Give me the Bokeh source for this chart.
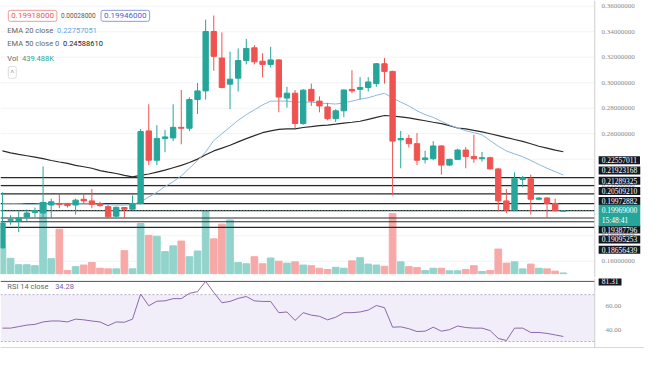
from bokeh.plotting import figure
from bokeh.layouts import column
from bokeh.models import (ColumnDataSource, Range1d, Label, BoxAnnotation, Span)
from bokeh.embed import file_html
from bokeh.resources import INLINE

# ---------------- data ----------------
opens = [0.1705, 0.1921, 0.1916, 0.1946, 0.1983, 0.1978, 0.2041, 0.2053, 0.2053, 0.2041,
         0.2086, 0.2073, 0.2051, 0.2028, 0.1953, 0.2021, 0.2008, 0.2053, 0.2622, 0.2392,
         0.2562, 0.2567, 0.2650, 0.2643, 0.2868, 0.2936, 0.3402, 0.3194, 0.2989, 0.3036,
         0.3174, 0.3274, 0.3169, 0.3144, 0.3179, 0.2880, 0.2918, 0.2680, 0.2948, 0.2856,
         0.2810, 0.2718, 0.2780, 0.2948, 0.2948, 0.2963, 0.2993, 0.3149, 0.3089, 0.2552,
         0.2562, 0.2522, 0.2397, 0.2404, 0.2504, 0.2354, 0.2399, 0.2472, 0.2422, 0.2404,
         0.2412, 0.2324, 0.2073, 0.2003, 0.2241, 0.2246, 0.2086, 0.2096, 0.2053, 0.19918]
closes = [0.1900, 0.1926, 0.1940, 0.1978, 0.1998, 0.2061, 0.2066, 0.2046, 0.2036, 0.2079,
          0.2073, 0.2046, 0.2036, 0.1948, 0.2023, 0.2008, 0.2053, 0.2617, 0.2392, 0.2562,
          0.2575, 0.2650, 0.2643, 0.2868, 0.2936, 0.3402, 0.3207, 0.2963, 0.3028, 0.3174,
          0.3269, 0.3164, 0.3144, 0.3179, 0.2888, 0.2918, 0.2680, 0.2942, 0.2856, 0.2818,
          0.2718, 0.2780, 0.2943, 0.2936, 0.2963, 0.3006, 0.3149, 0.3089, 0.2542, 0.2562,
          0.2522, 0.2392, 0.2410, 0.2504, 0.2354, 0.2399, 0.2472, 0.2422, 0.2404, 0.2412,
          0.2324, 0.2073, 0.2003, 0.2246, 0.2254, 0.2086, 0.2096, 0.2053, 0.1996, 0.19946]
highs = [0.2141, 0.1961, 0.1991, 0.2006, 0.2021, 0.2344, 0.2091, 0.2128, 0.2058, 0.2091,
         0.2128, 0.2166, 0.2066, 0.2043, 0.2028, 0.2025, 0.2116, 0.2637, 0.2831, 0.2667,
         0.2630, 0.2831, 0.2943, 0.2886, 0.2998, 0.3495, 0.3527, 0.3395, 0.3244, 0.3269,
         0.3344, 0.3294, 0.3232, 0.3282, 0.3185, 0.2968, 0.2943, 0.2950, 0.2993, 0.2893,
         0.2843, 0.2793, 0.2948, 0.3098, 0.3044, 0.3044, 0.3155, 0.3194, 0.3094, 0.2622,
         0.2592, 0.2605, 0.2467, 0.2542, 0.2510, 0.2404, 0.2482, 0.2495, 0.2592, 0.2457,
         0.2420, 0.2330, 0.2166, 0.2297, 0.2269, 0.2279, 0.2103, 0.2103, 0.2091, 0.1999]
lows = [0.1700, 0.1886, 0.1828, 0.1916, 0.1946, 0.1940, 0.1940, 0.2016, 0.2021, 0.1966,
        0.2053, 0.2016, 0.2028, 0.1938, 0.1946, 0.1940, 0.2004, 0.2045, 0.2354, 0.2354,
        0.2455, 0.2542, 0.2517, 0.2620, 0.2755, 0.2868, 0.3094, 0.2956, 0.2793, 0.2931,
        0.3144, 0.3144, 0.3044, 0.3119, 0.2768, 0.2805, 0.2643, 0.2670, 0.2818, 0.2768,
        0.2705, 0.2692, 0.2730, 0.2918, 0.2868, 0.2931, 0.2968, 0.2993, 0.2116, 0.2329,
        0.2492, 0.2354, 0.2367, 0.2392, 0.2279, 0.2346, 0.2392, 0.2329, 0.2372, 0.2382,
        0.2321, 0.1991, 0.1978, 0.1991, 0.2179, 0.1966, 0.2078, 0.1940, 0.1991, 0.1990]
volumes_m = [16.2, 9.6, 5.6, 5.6, 5.0, 44.6, 9.4, 27.8, 2.0, 4.4,
             5.4, 7.0, 3.4, 3.0, 3.0, 14.4, 3.0, 31.4, 24.0, 23.4,
             13.8, 17.4, 20.4, 10.6, 14.2, 39.0, 21.8, 31.0, 33.6, 7.0,
             6.2, 10.6, 6.2, 9.8, 7.8, 6.6, 7.4, 5.4, 5.0, 3.4,
             2.6, 4.0, 3.4, 8.0, 10.0, 6.0, 5.4, 4.6, 37.6, 7.4,
             4.4, 3.8, 2.0, 3.4, 3.4, 1.8, 1.8, 2.6, 5.0, 1.4,
             2.0, 15.4, 6.6, 7.4, 3.0, 6.0, 3.4, 3.0, 1.6, 0.44]
ema20 = [0.2051, 0.2051, 0.2051, 0.2047, 0.2047, 0.2051, 0.2051, 0.2051, 0.2051, 0.2051,
         0.2051, 0.2051, 0.2047, 0.2044, 0.2040, 0.2040, 0.2044, 0.2066, 0.2104, 0.2141,
         0.2186, 0.2224, 0.2269, 0.2329, 0.2390, 0.2457, 0.2547, 0.2600, 0.2653, 0.2705,
         0.2750, 0.2788, 0.2826, 0.2856, 0.2856, 0.2856, 0.2848, 0.2848, 0.2848, 0.2841,
         0.2837, 0.2833, 0.2841, 0.2856, 0.2871, 0.2882, 0.2901, 0.2918, 0.2880, 0.2848,
         0.2818, 0.2780, 0.2750, 0.2728, 0.2698, 0.2668, 0.2645, 0.2623, 0.2608, 0.2592,
         0.2547, 0.2502, 0.2465, 0.2442, 0.2420, 0.2390, 0.2359, 0.2329, 0.2303, 0.22757]
ema50 = [0.2465, 0.2450, 0.2438, 0.2427, 0.2416, 0.2405, 0.2390, 0.2378, 0.2367, 0.2352,
         0.2341, 0.2329, 0.2311, 0.2299, 0.2288, 0.2273, 0.2262, 0.2273, 0.2284, 0.2299,
         0.2314, 0.2333, 0.2352, 0.2374, 0.2401, 0.2435, 0.2465, 0.2487, 0.2510, 0.2536,
         0.2562, 0.2585, 0.2608, 0.2623, 0.2634, 0.2638, 0.2638, 0.2649, 0.2656, 0.2664,
         0.2668, 0.2675, 0.2683, 0.2690, 0.2698, 0.2713, 0.2728, 0.2743, 0.2739, 0.2732,
         0.2724, 0.2713, 0.2702, 0.2690, 0.2679, 0.2664, 0.2645, 0.2638, 0.2626, 0.2615,
         0.2600, 0.2585, 0.2570, 0.2555, 0.2540, 0.2521, 0.2502, 0.2487, 0.2472, 0.24589]
rsi = [41.4, 41.4, 42.7, 44.0, 44.6, 46.7, 47.5, 47.5, 46.7, 49.1,
       48.5, 47.5, 46.7, 43.5, 46.7, 46.4, 49.1, 70.5, 60.5, 64.4,
       64.7, 66.6, 66.6, 71.1, 72.6, 81.31, 71.9, 63.1, 64.2, 66.8,
       68.4, 64.7, 64.2, 64.2, 54.6, 55.2, 48.0, 54.6, 52.5, 51.5,
       48.5, 50.7, 54.6, 54.6, 55.2, 56.8, 60.7, 58.9, 42.2, 42.5,
       40.9, 38.5, 38.8, 42.2, 38.8, 40.1, 43.2, 41.9, 41.4, 41.4,
       39.3, 32.6, 30.8, 41.4, 41.4, 37.7, 37.7, 36.9, 35.6, 34.28]
levels = [0.22557011, 0.21923168, 0.21289325, 0.20509210, 0.19972882,
          0.19387796, 0.19095253, 0.18656439]
last_price = 0.19969000
last_time = "15:48:41"
price_ticks = [0.16, 0.18, 0.20, 0.22, 0.24, 0.26, 0.28, 0.30, 0.32, 0.34, 0.36]
rsi_ticks = [40, 60]
rsi_mark = 81.31
legend_open = "0.19918000"
legend_change = "0.00028000"
legend_close = "0.19946000"
ema20_label = "0.22757051"
ema50_label = "0.24588610"
vol_label = "439.488K"
rsi_label = "34.28"

# ---------------- layout constants ----------------
UP = "#26a69a"
DOWN = "#ef5350"
FONT = "Roboto"
W = 644
H1 = 277
H2 = 70
REF_W = 660.0
fx = W / REF_W
fy = H1 / 289.0
STEP = 8.33            # candle spacing in reference px


def xi(xref):          # reference px -> candle index coordinate
    return (xref - 2.0) / STEP


X0, X1 = xi(0), xi(REF_W)
AXIS_X = xi(609)
TICK_X = xi(616)
BOX_X = xi(613)
PY0, PY1 = 0.14722, 0.36451
RSI0, RSI1 = 24.0, 83.8


def py(yref):          # reference px (from top of main pane) -> price
    return PY1 - yref * (PY1 - PY0) / 289.0


n = len(opens)
idx = list(range(n))
colors = [UP if c >= o else DOWN for o, c in zip(opens, closes)]
vcolors = ["#92d3cc" if c >= o else "#f7a9a8" for o, c in zip(opens, closes)]
src = ColumnDataSource(dict(x=idx, o=opens, c=closes, h=highs, l=lows,
                            top=[max(a, b) for a, b in zip(opens, closes)],
                            bot=[min(a, b) for a, b in zip(opens, closes)],
                            col=colors, vcol=vcolors, vol=volumes_m,
                            e20=ema20, e50=ema50, rsi=rsi))

xr = Range1d(X0, X1)


def make_fig(h, yr):
    f = figure(width=W, height=h, x_range=xr, y_range=yr, output_backend="svg",
               toolbar_location=None, x_axis_location=None, y_axis_location=None,
               min_border=0, outline_line_color=None,
               background_fill_color="white", border_fill_color="white")
    f.xgrid.visible = False
    f.ygrid.visible = False
    return f


# ---------------- main pane ----------------
p = make_fig(H1, Range1d(PY0, PY1))
p.extra_y_ranges = {"vol": Range1d(-2.4, 171.0)}

# faint horizontal grid at price ticks
p.segment(x0=[X0] * len(price_ticks), y0=price_ticks, x1=[AXIS_X] * len(price_ticks),
          y1=price_ticks, line_color="#f2f3f6", line_width=1)

# volume
p.vbar(x="x", top="vol", bottom=0, width=0.82, color="vcol", source=src,
       y_range_name="vol")

# support / resistance lines
p.segment(x0=[X0] * len(levels), y0=levels, x1=[AXIS_X] * len(levels), y1=levels,
          line_color="#2a2a2a", line_width=1.2)
p.segment(x0=[X0], y0=[last_price], x1=[AXIS_X], y1=[last_price],
          line_color="#7fb8b2", line_width=1, line_dash="1 2")

# EMAs
p.line("x", "e50", source=src, line_color="#2b2b2b", line_width=1.2)
p.line("x", "e20", source=src, line_color="#8db8dc", line_width=1)

# candles
p.segment(x0="x", y0="l", x1="x", y1="h", color="col", line_width=1, source=src)
p.vbar(x="x", top="top", bottom="bot", width=0.66, color="col", source=src)

# price scale (right)
p.add_layout(Span(location=AXIS_X, dimension="height", line_color="#cfcfcf", line_width=1))
p.text(x=[TICK_X] * len(price_ticks), y=price_ticks,
       text=["%.8f" % t for t in price_ticks], text_font=FONT, text_font_size="7px",
       text_color="#8a8a8a", text_baseline="middle", text_align="left")

slots = [166.7, 177.3, 188.0, 198.7, 209.3, 239.0, 249.3, 260.0]
p.text(x=[BOX_X] * len(levels), y=[py(s) for s in slots],
       text=["%.8f" % lv for lv in levels], text_font=FONT, text_font_size="7.5px",
       text_color="white", text_baseline="middle", text_align="left",
       background_fill_color="#131722", padding=(3, 1))
p.text(x=[BOX_X], y=[py(224.3)], text=["%.8f\n%s" % (last_price, last_time)],
       text_font=FONT, text_font_size="7.5px", text_color="white",
       text_baseline="middle", text_align="left", text_line_height=1.15,
       background_fill_color=UP, padding=(3, 1))


def lab(fig, x, y, text, **kw):
    base = dict(x=x, y=y, x_units="screen", y_units="screen", text=text,
                text_font=FONT, text_font_size="7.5px", text_baseline="middle",
                text_align="left")
    base.update(kw)
    fig.add_layout(Label(**base))


def sy1(yref):
    return H1 - yref * fy


# top-left legend
lab(p, 8 * fx, sy1(16), legend_open, text_color=DOWN, background_fill_color="white",
    border_line_color="#f19b99", padding=3, border_radius=2, text_font_size="8px")
lab(p, 62 * fx, sy1(16), legend_change, text_color="#555555", text_font_size="6.5px")
lab(p, 103 * fx, sy1(16), legend_close, text_color="#4d63c9", background_fill_color="white",
    border_line_color="#8f9ce0", padding=3, border_radius=2, text_font_size="8px")
lab(p, 7 * fx, sy1(31), "EMA 20 close", text_color="#666666")
lab(p, 58 * fx, sy1(31), ema20_label, text_color="#6aa6da")
lab(p, 7 * fx, sy1(45), "EMA 50 close 0", text_color="#666666")
lab(p, 64 * fx, sy1(45), ema50_label, text_color="#222222")
lab(p, 7 * fx, sy1(60), "Vol", text_color="#666666")
lab(p, 22 * fx, sy1(60), vol_label, text_color="#26a69a")
lab(p, 8 * fx, sy1(75), "\u02c4", text_color="#444444", background_fill_color="white",
    border_line_color="#dddddd", padding=2, border_radius=2, text_font_size="7px")

# ---------------- RSI pane ----------------
p2 = make_fig(H2, Range1d(RSI0, RSI1))
p2.add_layout(BoxAnnotation(left=X0, right=AXIS_X, bottom=30, top=70,
                            fill_color="#7e57c2", fill_alpha=0.1, line_color=None))
p2.segment(x0=[X0, X0], y0=[30, 70], x1=[AXIS_X, AXIS_X], y1=[30, 70],
           line_color="#b9b0c9", line_width=1, line_dash="2 2")
p2.segment(x0=[X0], y0=[rsi_mark], x1=[AXIS_X], y1=[rsi_mark],
           line_color="#555555", line_width=1)
p2.line("x", "rsi", source=src, line_color="#8e6aa8", line_width=1)

p2.add_layout(Span(location=AXIS_X, dimension="height", line_color="#cfcfcf", line_width=1))
p2.add_layout(Span(location=RSI0 + 0.6, dimension="width", line_color="#c8c8c8", line_width=1))
p2.text(x=[xi(620)] * len(rsi_ticks), y=rsi_ticks, text=["%.2f" % t for t in rsi_ticks],
        text_font=FONT, text_font_size="7px", text_color="#8a8a8a",
        text_baseline="middle", text_align="left")
p2.text(x=[BOX_X], y=[rsi_mark], text=["%.2f" % rsi_mark], text_font=FONT,
        text_font_size="7.5px", text_color="white", text_baseline="middle",
        text_align="left", background_fill_color="#131722", padding=(3, 1))

fy2 = H2 / 72.0
lab(p2, 7 * fx, H2 - 8 * fy2, "RSI 14 close", text_color="#666666")
lab(p2, 56 * fx, H2 - 8 * fy2, rsi_label, text_color="#7e5c9c")

layout = column(p, p2, spacing=1)
open("out.html", "w").write(file_html(layout, INLINE))
